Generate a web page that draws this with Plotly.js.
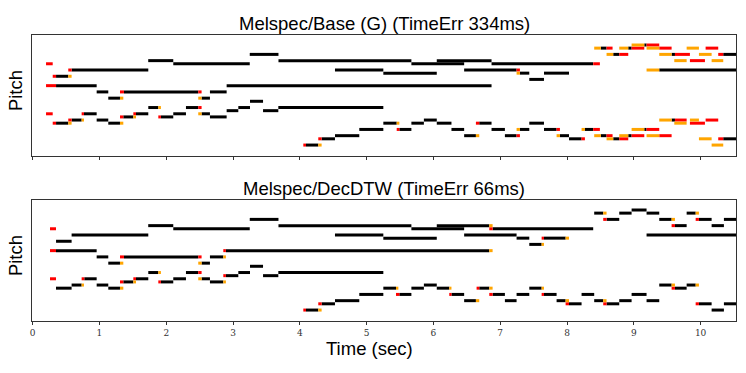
<!DOCTYPE html>
<html>
<head>
<meta charset="utf-8">
<script src="https://cdn.plot.ly/plotly-3.0.1.min.js"></script>
<style>html,body{margin:0;padding:0;background:#fff;}#chart{width:746px;height:373px;}</style>
</head>
<body>
<div id="chart"></div>
<script>
// Each note segment: [start time (sec), end time (sec), pitch index]
const baseBlack = [
 [1.73,2.105,27],[2.105,3.25,26],[3.25,3.68,29],[3.68,5.67,27],[5.67,6.46,26],[6.05,6.87,27],[6.87,8.39,26],
 [0.583,1.731,24],[4.526,5.25,24],[5.25,6.05,23],[6.46,7.245,24],[7.295,7.435,23],[7.435,7.655,21],[7.655,8.03,23],
 [0.35,0.533,22],[0.35,0.958,19],[2.904,6.87,19],
 [0.958,1.132,17],[1.367,2.479,17],[2.654,2.904,17],
 [1.132,1.307,15],[2.529,2.654,15],[3.254,3.449,14],
 [1.731,1.881,12],[2.295,2.479,12],[3.079,3.254,12],[3.678,5.25,12],
 [2.904,3.079,11],[3.449,3.678,11],
 [0.768,0.958,10],[1.547,1.731,10],[2.105,2.295,10],[2.529,2.654,10],
 [1.357,1.507,9],[1.92,2.105,9],[2.654,2.904,9],
 [0.583,0.733,8],[0.958,1.132,8],[5.857,6.05,8],
 [0.35,0.533,7],[1.132,1.307,7],[5.25,5.45,7],[5.67,5.857,7],[6.05,6.27,7],[6.686,6.87,7],[7.435,7.655,7],
 [4.89,5.25,5],[5.49,5.67,5],[6.27,6.46,5],[6.87,7.07,5],[7.295,7.435,5],[7.655,7.844,5],
 [4.526,4.89,3],[6.46,6.636,3],[7.07,7.245,3],[7.894,8.03,3],
 [4.326,4.526,2],[8.03,8.218,2],
 [4.092,4.276,0],
 [9.157,9.191,32],[8.507,8.592,31],[8.917,8.967,31],[8.692,8.782,29],[9.566,9.616,29],[10.339,10.53,29],[9.381,10.53,24],
 [9.566,9.616,8],[8.268,8.392,5],[9.157,9.191,5],[8.507,8.592,3],[8.917,8.967,3],[8.692,8.782,2],[10.339,10.53,2]
];
const baseRed = [
 [0.2,0.3,26],[0.533,0.583,24],[0.3,0.35,22],[0.2,0.35,19],[1.307,1.367,17],[2.479,2.529,17],[2.479,2.529,12],
 [0.2,0.3,10],[0.733,0.768,10],[1.507,1.547,10],[1.307,1.357,9],[1.881,1.92,9],[0.533,0.583,8],[0.3,0.35,7],
 [4.276,4.326,2],[4.052,4.092,0],[5.45,5.49,5],[6.636,6.686,7],[7.245,7.295,3],[7.245,7.295,24],
 [8.392,8.492,26],[9.191,9.381,32],[8.592,8.682,31],[8.967,9.157,31],[9.381,9.566,31],[10.075,10.264,31],
 [8.782,8.917,29],[9.616,9.84,29],[10.264,10.339,29],[9.84,10.065,27],
 [9.616,9.791,8],[10.075,10.264,8],[9.84,10.065,7],[7.844,7.894,5],[8.392,8.492,5],[9.191,9.381,5],
 [8.592,8.682,3],[8.967,9.157,3],[9.381,9.566,3],[8.218,8.268,2],[8.782,8.917,2],[10.264,10.339,2]
];
const baseOrange = [
 [0.533,0.583,22],[1.307,1.357,15],[2.479,2.529,15],[1.881,1.92,12],[2.479,2.529,10],[1.507,1.547,9],[0.733,0.768,8],[0.533,0.583,7],[1.307,1.357,7],
 [4.276,4.326,0],[5.45,5.49,7],[6.636,6.686,3],[7.245,7.295,5],[7.245,7.295,23],
 [8.967,9.157,32],[8.407,8.507,31],[8.782,8.917,31],[9.191,9.381,31],[9.791,9.975,31],
 [8.592,8.692,29],[9.381,9.566,29],[9.975,10.165,29],[9.606,9.791,27],[10.165,10.339,27],[9.191,9.381,24],
 [9.381,9.566,8],[9.84,9.975,8],[9.606,9.791,7],[8.218,8.268,5],[8.967,9.157,5],
 [7.844,7.894,3],[8.407,8.507,3],[8.782,8.917,3],[9.191,9.381,3],[8.592,8.692,2],[9.975,10.165,2],[10.165,10.339,0]
];
const dtwBlack = [
 [1.73,2.105,27],[3.68,5.67,27],[6.05,6.836,27],
 [2.105,3.25,26],[5.67,6.46,26],[6.886,8.392,26],
 [3.25,3.68,29],[8.592,8.782,29],[9.381,9.566,29],[9.975,10.165,29],[10.349,10.53,29],
 [8.967,9.191,32],
 [8.407,8.542,31],[8.782,8.967,31],[9.191,9.381,31],[9.791,9.926,31],
 [9.616,9.791,27],[10.165,10.349,27],
 [0.583,1.731,24],[4.526,5.25,24],[6.46,7.245,24],[9.191,10.53,24],
 [5.25,6.05,23],[7.245,7.435,23],[7.655,7.979,23],
 [7.435,7.62,21],
 [0.35,0.583,22],
 [0.349,0.958,19],[2.893,6.836,19],
 [0.958,1.132,17],[1.367,2.479,17],[2.654,2.854,17],
 [1.132,1.307,15],[2.529,2.654,15],
 [3.254,3.449,14],
 [1.731,1.881,12],[2.295,2.479,12],[3.079,3.254,12],[3.678,5.25,12],
 [2.893,3.079,11],[3.449,3.678,11],
 [0.773,0.958,10],[1.547,1.731,10],[2.105,2.295,10],[2.529,2.654,10],
 [1.357,1.507,9],[1.92,2.105,9],[2.654,2.854,9],
 [0.583,0.733,8],[0.958,1.132,8],[5.857,6.05,8],[9.381,9.566,8],[9.791,9.926,8],
 [0.349,0.583,7],[1.132,1.307,7],[5.25,5.44,7],[5.67,5.857,7],[6.05,6.237,7],[6.686,6.836,7],[7.435,7.62,7],[9.616,9.791,7],
 [4.89,5.25,5],[5.49,5.67,5],[6.27,6.46,5],[6.886,7.07,5],[7.245,7.435,5],[7.655,7.844,5],[8.218,8.407,5],[8.967,9.191,5],
 [4.526,4.89,3],[6.46,6.636,3],[7.07,7.245,3],[7.844,7.979,3],[8.407,8.542,3],[8.782,8.967,3],[9.191,9.381,3],
 [4.326,4.526,2],[8.03,8.218,2],[8.592,8.782,2],[9.975,10.165,2],[10.349,10.53,2],
 [4.092,4.276,0],[10.165,10.349,0]
];
const dtwRed = [
 [0.259,0.349,26],[0.259,0.349,19],[0.259,0.349,10],
 [1.307,1.367,17],[2.479,2.529,17],[2.479,2.529,12],
 [0.733,0.773,10],[1.507,1.547,10],[1.307,1.357,9],[1.881,1.92,9],
 [2.854,2.893,19],[2.854,2.893,11],
 [4.276,4.326,2],[4.052,4.092,0],
 [5.44,5.49,5],[6.237,6.27,5],[6.646,6.686,7],[6.836,6.886,5],[6.836,6.886,26],
 [7.62,7.655,23],[7.62,7.655,5],
 [8.542,8.592,29],[9.926,9.975,29],[9.566,9.616,27],
 [7.979,8.03,2],[8.542,8.592,2],[9.926,9.975,2],[9.566,9.616,7]
];
const dtwOrange = [
 [1.307,1.357,15],[2.479,2.529,15],[1.881,1.92,12],[2.479,2.529,10],[1.507,1.547,9],[0.733,0.768,8],[1.307,1.357,7],
 [2.854,2.893,17],[2.854,2.893,9],
 [4.276,4.326,0],
 [5.44,5.475,7],[6.237,6.27,7],[6.636,6.686,3],[6.836,6.886,7],[6.836,6.886,27],[6.836,6.886,19],
 [7.62,7.655,21],[7.62,7.655,7],[7.979,8.03,23],[7.979,8.03,3],
 [8.542,8.592,31],[9.926,9.975,31],[9.566,9.616,29],
 [8.542,8.592,3],[9.566,9.616,8],[9.926,9.975,8]
];
const panelTitles = ["Melspec/Base (G) (TimeErr 334ms)", "Melspec/DecDTW (TimeErr 66ms)"];
const xTicks = [0,1,2,3,4,5,6,7,8,9,10];

function segTrace(list, color, xa, ya) {
  const x = [], y = [];
  list.forEach(s => { x.push(s[0], s[1], null); y.push(s[2], s[2], null); });
  return {type:'scatter', mode:'lines', x:x, y:y, xaxis:xa, yaxis:ya,
          line:{color:color, width:3}, hoverinfo:'skip', showlegend:false, connectgaps:false};
}
const RED = '#ff0000', ORANGE = '#ffa500', BLACK = '#000000';
const data = [
  segTrace(baseBlack, BLACK, 'x', 'y'),
  segTrace(baseRed, RED, 'x', 'y'),
  segTrace(baseOrange, ORANGE, 'x', 'y'),
  segTrace(dtwBlack, BLACK, 'x2', 'y2'),
  segTrace(dtwRed, RED, 'x2', 'y2'),
  segTrace(dtwOrange, ORANGE, 'x2', 'y2')
];

const frame = {showline:true, mirror:true, linecolor:'#333', linewidth:1, showgrid:false, zeroline:false};
const txtFont = {family:'Liberation Sans, Arial, sans-serif', size:18.5, color:'#000'};
const layout = {
  width:746, height:373,
  margin:{l:32, r:10, t:35, b:52},
  paper_bgcolor:'#fff', plot_bgcolor:'#fff', showlegend:false,
  xaxis: Object.assign({anchor:'y', range:[-0.01,10.53], tickmode:'array', tickvals:xTicks,
          showticklabels:false, ticks:'outside', ticklen:3, tickcolor:'#333'}, frame),
  yaxis: Object.assign({anchor:'x', domain:[0.5769,1], range:[-3.5,35.2], showticklabels:false, ticks:''}, frame),
  xaxis2: Object.assign({anchor:'y2', range:[-0.01,10.53], tickmode:'array', tickvals:xTicks,
          ticktext:xTicks.map(String), showticklabels:true, ticks:'outside', ticklen:3, tickcolor:'#333',
          tickfont:{family:'DejaVu Serif, Liberation Serif, serif', size:9, color:'#333'}}, frame),
  yaxis2: Object.assign({anchor:'x2', domain:[0,0.4231], range:[-3.5,35.2], showticklabels:false, ticks:''}, frame),
  annotations:[
    {text:panelTitles[0], xref:'paper', yref:'paper', x:0.5, y:1, xanchor:'center', yanchor:'bottom', yshift:-1, showarrow:false, font:txtFont},
    {text:panelTitles[1], xref:'paper', yref:'paper', x:0.5, y:0.4231, xanchor:'center', yanchor:'bottom', yshift:-1, showarrow:false, font:txtFont},
    {text:'Pitch', xref:'paper', yref:'paper', x:-0.0241, y:0.804, xanchor:'center', yanchor:'middle', textangle:-90, showarrow:false, font:txtFont},
    {text:'Pitch', xref:'paper', yref:'paper', x:-0.0241, y:0.227, xanchor:'center', yanchor:'middle', textangle:-90, showarrow:false, font:txtFont},
    {text:'Time (sec)', xref:'paper', yref:'paper', x:0.48, y:-0.097, xanchor:'center', yanchor:'middle', borderpad:0, showarrow:false, font:txtFont}
  ]
};
Plotly.newPlot('chart', data, layout, {staticPlot:true, displayModeBar:false});
</script>
</body>
</html>
